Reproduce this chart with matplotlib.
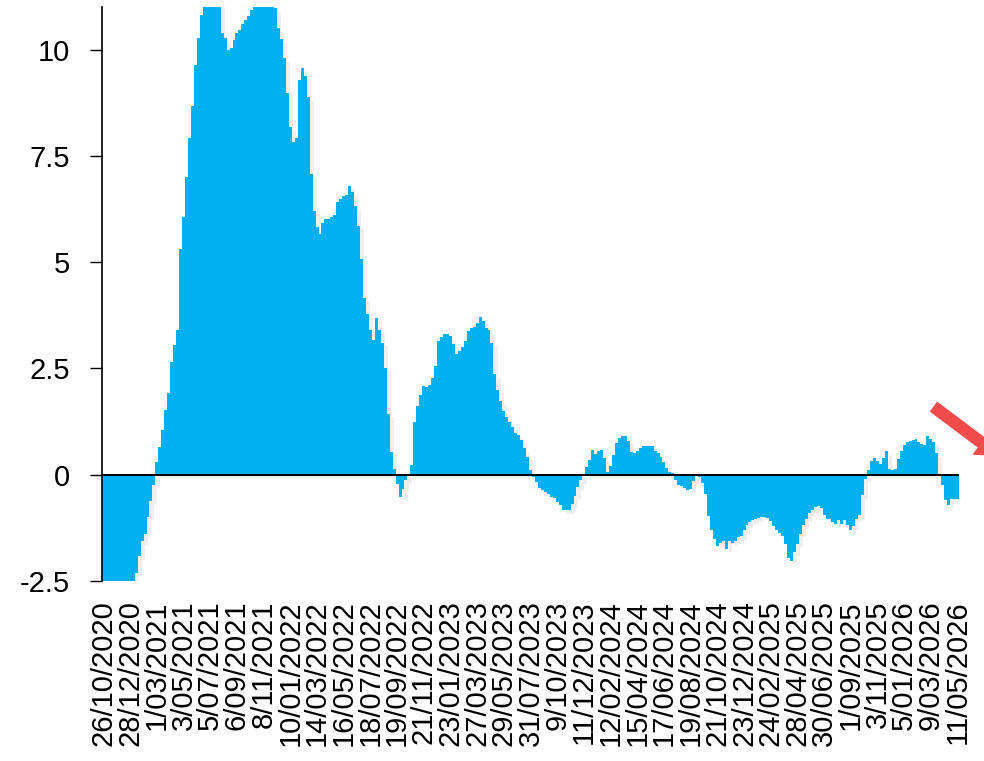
import matplotlib
matplotlib.use("Agg")
import matplotlib.pyplot as plt
import matplotlib.patheffects as pe
from matplotlib.patches import FancyArrow
from matplotlib.transforms import IdentityTransform

plt.rcParams['font.family'] = ['Liberation Sans', 'DejaVu Sans']

tickLabels = ["26/10/2020", "28/12/2020", "1/03/2021", "3/05/2021", "5/07/2021", "6/09/2021",
              "8/11/2021", "10/01/2022", "14/03/2022", "16/05/2022", "18/07/2022", "19/09/2022",
              "21/11/2022", "23/01/2023", "27/03/2023", "29/05/2023", "31/07/2023", "9/10/2023",
              "11/12/2023", "12/02/2024", "15/04/2024", "17/06/2024", "19/08/2024", "21/10/2024",
              "23/12/2024", "24/02/2025", "28/04/2025", "30/06/2025", "1/09/2025", "3/11/2025",
              "5/01/2026", "9/03/2026", "11/05/2026"]

# weekly values, one per bar
values = [
    -3.4, -3.3, -3.2, -3.1, -3.0, -2.95, -2.9, -2.85, -2.8, -2.7, -2.6,
    -2.31, -1.92, -1.57, -1.39, -0.99, -0.62, -0.23, 0.29, 0.65, 1.06, 1.53, 1.92, 2.66, 3.05, 3.41,
    5.31, 6.06, 7.00, 7.93, 8.67, 9.63, 10.26, 10.81, 11.2, 11.4, 11.5, 11.4, 11.3, 11.1,
    10.40, 10.26, 9.98, 10.04, 10.22, 10.38, 10.47, 10.61, 10.69, 10.79, 10.93, 11.1, 11.2, 11.3, 11.3, 11.2, 11.1, 11.05,
    10.97, 10.5, 10.24, 9.79, 8.98, 8.18, 7.82, 7.92, 9.29, 9.57, 9.37, 8.88, 7.08, 6.21, 5.82, 5.66, 5.92, 6.02,
    6.02, 6.06, 6.10, 6.41, 6.49, 6.55, 6.57, 6.79, 6.65, 6.31, 5.85, 5.07, 4.16, 3.77, 3.41, 3.18, 3.69,
    3.40, 3.10, 2.51, 1.43, 0.54, 0.14, -0.22, -0.52, -0.33, -0.12, -0.03, 0.23, 1.25,
    1.61, 1.87, 2.08, 2.06, 2.10, 2.28, 2.55, 3.14, 3.24, 3.30, 3.32, 3.26, 3.07, 2.83,
    2.91, 3.00, 3.14, 3.38, 3.44, 3.47, 3.58, 3.71, 3.62, 3.46, 3.40, 3.10, 2.36,
    2.00, 1.73, 1.49, 1.35, 1.25, 1.13, 0.98, 0.93, 0.82, 0.62, 0.42, 0.11,
    -0.05, -0.17, -0.31, -0.36, -0.40, -0.46, -0.52, -0.54, -0.64, -0.72, -0.84, -0.84, -0.84, -0.70, -0.50, -0.30, -0.13, 0.0,
    0.19, 0.35, 0.58, 0.48, 0.55, 0.57, 0.40, 0.07, 0.20, 0.46, 0.75, 0.87, 0.91, 0.90, 0.80, 0.54, 0.50, 0.56, 0.62,
    0.68, 0.68, 0.68, 0.68, 0.55, 0.50, 0.41, 0.29, 0.16, 0.07, 0.03, -0.12, -0.24, -0.27, -0.31, -0.35, -0.33, -0.15, -0.03, -0.05, -0.20, -0.45,
    -0.97, -1.29, -1.52, -1.67, -1.60, -1.56, -1.74, -1.55, -1.60, -1.55, -1.47, -1.45, -1.30, -1.18, -1.11, -1.07, -1.03, -1.01, -0.99, -0.99,
    -1.01, -1.10, -1.20, -1.30, -1.38, -1.45, -1.62, -1.95, -2.04,
    -1.82, -1.62, -1.39, -1.19, -1.03, -0.91, -0.83, -0.76, -0.73, -0.78, -0.95, -1.03, -1.05, -1.11, -1.15, -1.07, -1.15, -1.07, -1.19,
    -1.31, -1.21, -1.03, -0.95, -0.48, -0.09,
    0.11, 0.32, 0.39, 0.32, 0.25, 0.40, 0.55, 0.13, 0.11, 0.14, 0.37, 0.55, 0.69, 0.76, 0.80, 0.81, 0.84, 0.76, 0.72, 0.71,
    0.92, 0.84, 0.78, 0.51, -0.04, -0.24, -0.59, -0.71, -0.57, -0.56, -0.56,
]

yTicks = [-2.5, 0, 2.5, 5, 7.5, 10]
yTickLabels = ["-2.5", "0", "2.5", "5", "7.5", "10"]

fig = plt.figure(figsize=(9.84, 7.61), dpi=100)
ax = fig.add_axes([0.1037, 0.2365, 0.8709, 0.7543])

x = list(range(len(values)))
bars = ax.bar(x, values, width=1.0, color='#00B0F0', linewidth=0)
for b in bars:
    b.set_path_effects([pe.SimplePatchShadow(offset=(3, -2.5), shadow_rgbFace='#b0b0b0', alpha=0.2), pe.Normal()])

ax.axhline(0, color='black', linewidth=1.4, zorder=3)

ax.set_xlim(-0.5, len(values) - 0.5)
ax.set_ylim(-2.5, 11)

ax.set_yticks(yTicks)
ax.set_yticklabels(yTickLabels, fontsize=21)
ax.tick_params(axis='y', length=9, width=1, direction='out', pad=14)

ax.set_xticks(range(0, len(values), 9))
ax.set_xticklabels(tickLabels, rotation=90, fontsize=21)
ax.tick_params(axis='x', length=0, pad=14)

for side in ['top', 'right', 'bottom']:
    ax.spines[side].set_visible(False)
ax.spines['left'].set_linewidth(1.2)

# red arrow in the top right corner, partly outside the picture
arrow = FancyArrow(934, 354, 64, -48, width=11, head_width=28, head_length=20,
                   length_includes_head=True, color='#F24B4B', transform=IdentityTransform())
fig.add_artist(arrow)

fig.savefig("out.png", dpi=100)
